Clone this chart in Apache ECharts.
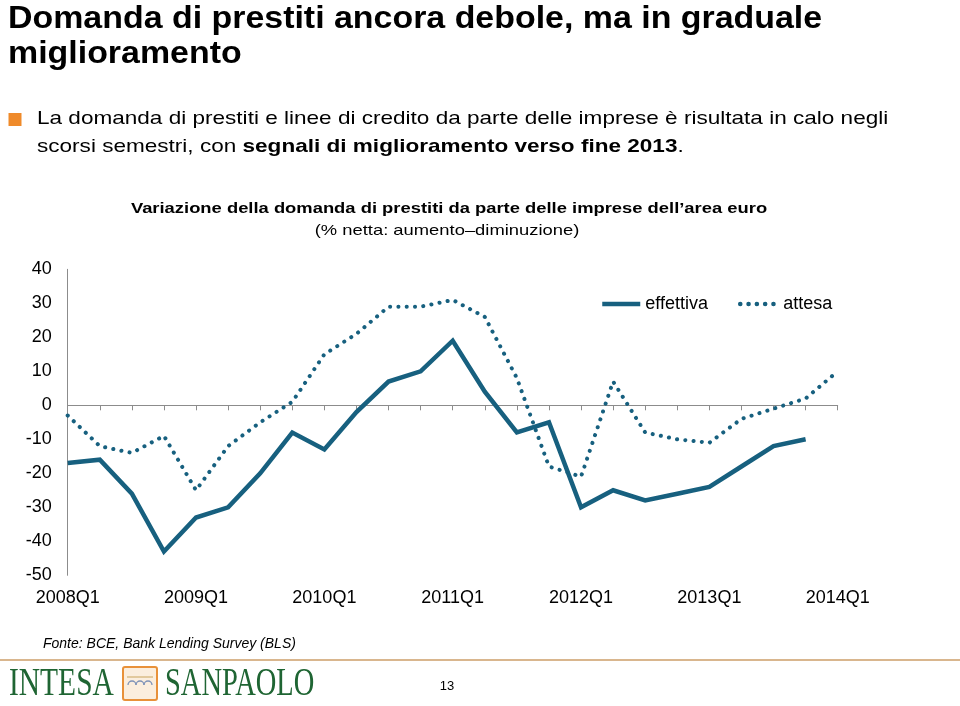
<!DOCTYPE html>
<html lang="it">
<head>
<meta charset="UTF-8">
<title>Domanda di prestiti</title>
<style>
    html, body { margin: 0; padding: 0; background: #fff; }
    #chart { width: 960px; height: 706px; }
</style>
<script src="https://cdn.jsdelivr.net/npm/echarts@6/dist/echarts.min.js"></script>
</head>
<body>
<div id="chart"></div>
<script>
    // trimestri sull'asse x
    var categories = [
        '2008Q1', '2008Q2', '2008Q3', '2008Q4',
        '2009Q1', '2009Q2', '2009Q3', '2009Q4',
        '2010Q1', '2010Q2', '2010Q3', '2010Q4',
        '2011Q1', '2011Q2', '2011Q3', '2011Q4',
        '2012Q1', '2012Q2', '2012Q3', '2012Q4',
        '2013Q1', '2013Q2', '2013Q3', '2013Q4',
        '2014Q1'
    ];
    // % netta: aumento - diminuzione
    var effettiva = [-17, -16, -26, -43, -33, -30, -20, -8, -13, -2, 7, 10, 19,
                     4, -8, -5, -30, -25, -28, -26, -24, -18, -12, -10, null];
    var attesa = [-3, -12, -14, -9, -25, -12, -5, 1, 15, 21, 29, 29, 31,
                  26, 8, -18, -21, 7, -8, -10, -11, -4, -1, 2, 10];
    var seriesNames = ['effettiva', 'attesa'];
    var yMin = -50, yMax = 40, yStep = 10;

    var blu = '#17607f';
    var font = "'Liberation Sans', Arial, Helvetica, sans-serif";
    var serif = "'Liberation Serif', 'DejaVu Serif', serif";
    var verde = '#1f6533';

    var chart = echarts.init(document.getElementById('chart'));

    // testo della slide; sx = allargamento orizzontale
    function txt(x, y, text, size, sx, extra) {
        var style = {
            text: text, fontSize: size, fontFamily: font, fill: '#000',
            verticalAlign: 'middle', align: 'left'
        };
        for (var k in extra) style[k] = extra[k];
        return {type: 'text', x: x, y: y, scaleX: sx, style: style, z: 10};
    }

    function arco(cx) {
        return {type: 'arc', shape: {cx: cx, cy: 685, r: 4, startAngle: Math.PI, endAngle: 0},
                style: {stroke: '#7f93b8', fill: 'none', lineWidth: 1.3}};
    }

    var option = {
        animation: false,
        backgroundColor: '#fff',
        grid: {left: 67.7, right: 122.3, top: 269.3, bottom: 130.7},
        legend: {
            data: seriesNames,
            left: 595, top: 290,
            itemWidth: 38, itemHeight: 14, itemGap: 30,
            itemStyle: {opacity: 0},
            lineStyle: {width: 4.5},
            textStyle: {fontSize: 18, fontFamily: font, color: '#000'}
        },
        xAxis: [{
            type: 'category',
            data: categories,
            boundaryGap: false,
            axisLine: {onZero: true, lineStyle: {color: '#8c8c8c', width: 1}},
            axisTick: {show: true, interval: 0, length: 5, lineStyle: {color: '#8c8c8c'}},
            axisLabel: {show: false},
            splitLine: {show: false}
        }, {
            type: 'category',
            data: categories,
            boundaryGap: false,
            position: 'bottom',
            axisLine: {show: false, onZero: false},
            axisTick: {show: false},
            axisLabel: {interval: 3, fontSize: 18, fontFamily: font, color: '#000', margin: 14},
            splitLine: {show: false}
        }],
        yAxis: {
            type: 'value',
            min: yMin, max: yMax, interval: yStep,
            axisLine: {show: true, lineStyle: {color: '#8c8c8c', width: 1}},
            axisTick: {show: false},
            splitLine: {show: false},
            axisLabel: {fontSize: 18, fontFamily: font, color: '#000', margin: 16}
        },
        series: [{
            name: seriesNames[0],
            type: 'line',
            data: effettiva,
            symbol: 'none',
            color: blu,
            lineStyle: {width: 4.5, color: blu, join: 'miter'},
            z: 3
        }, {
            name: seriesNames[1],
            type: 'line',
            data: attesa,
            symbol: 'none',
            color: blu,
            lineStyle: {width: 4, color: blu, type: [0.1, 8.2], cap: 'round'},
            z: 2
        }],
        graphic: [
            txt(8, 19, 'Domanda di prestiti ancora debole, ma in graduale', 31, 1.094, {fontWeight: 'bold'}),
            txt(8, 54, 'miglioramento', 31, 1.094, {fontWeight: 'bold'}),
            {type: 'rect', x: 8.5, y: 113, shape: {width: 13, height: 13}, style: {fill: '#ef8a2a'}},
            txt(37, 119, 'La domanda di prestiti e linee di credito da parte delle imprese è risultata in calo negli', 19, 1.187),
            {
                type: 'text', x: 37, y: 147, scaleX: 1.187, z: 10,
                style: {
                    text: 'scorsi semestri, con {b|segnali di miglioramento verso fine 2013}.',
                    fontSize: 19, fontFamily: font, fill: '#000', verticalAlign: 'middle',
                    rich: {b: {fontWeight: 'bold', fontSize: 19, fontFamily: font, fill: '#000'}}
                }
            },
            txt(449, 209, 'Variazione della domanda di prestiti da parte delle imprese dell’area euro', 15, 1.225,
                {fontWeight: 'bold', align: 'center'}),
            txt(447, 231, '(% netta: aumento–diminuzione)', 15, 1.225, {align: 'center'}),
            txt(43, 644, 'Fonte: BCE, Bank Lending Survey (BLS)', 14, 1, {fontStyle: 'italic'}),
            {type: 'line', shape: {x1: 0, y1: 660, x2: 960, y2: 660}, style: {stroke: '#d9b68e', lineWidth: 2}},
            {
                type: 'text', x: 9, y: 685, scaleX: 0.756, z: 10,
                style: {text: 'INTESA', fontSize: 39, fontFamily: serif, fill: verde, verticalAlign: 'middle'}
            },
            {type: 'rect', x: 123, y: 667, shape: {width: 34, height: 33, r: 2},
             style: {fill: '#fbeede', stroke: '#e8913a', lineWidth: 2}},
            {type: 'line', shape: {x1: 127, y1: 677, x2: 153, y2: 677}, style: {stroke: '#c9a45c', lineWidth: 1}},
            arco(132), arco(140), arco(148),
            {
                type: 'text', x: 165, y: 685, scaleX: 0.73, z: 10,
                style: {text: 'SANPAOLO', fontSize: 39, fontFamily: serif, fill: verde, verticalAlign: 'middle'}
            },
            txt(447, 686, '13', 13, 1, {align: 'center'})
        ]
    };

    chart.setOption(option);
</script>
</body>
</html>
